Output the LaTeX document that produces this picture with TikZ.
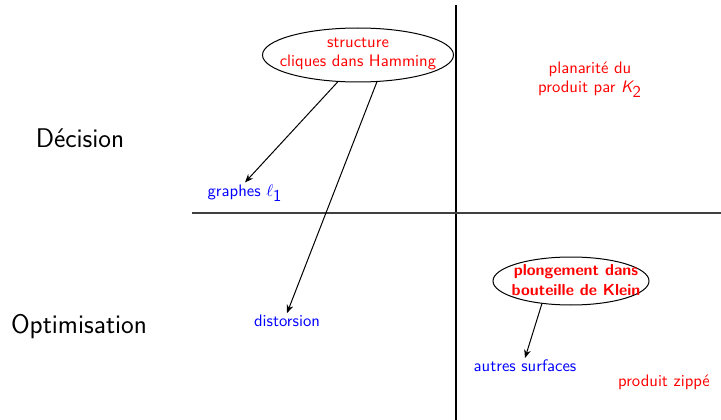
\documentclass[tikz,border=0pt]{standalone}
\renewcommand{\familydefault}{\sfdefault}
\usetikzlibrary{shapes.geometric,arrows.meta}
\begin{document}
\begin{tikzpicture}[x=0.6pt,y=-0.6pt,
  lbl/.style={font=\fontsize{10}{11}\selectfont, align=center, inner sep=1pt},
  red lbl/.style={lbl, text=red},
  blue lbl/.style={lbl, text=blue},
  oval/.style={ellipse, draw, line width=0.6pt, inner sep=0pt},
  big/.style={font=\fontsize{16.2}{19}\selectfont, inner sep=0pt},
  axis/.style={line width=0.8pt},
  arr/.style={-{Stealth[length=5pt,width=4pt]}, line width=0.6pt}]
\useasboundingbox (0,0) rectangle (721,420);
\coordinate (vtop) at (456,5);
\coordinate (vbot) at (456,420);
\coordinate (hl) at (192,213);
\coordinate (hr) at (721,213);
\draw[axis] (vtop) -- (vbot);
\draw[axis, black!75] (hl) -- (hr);
\node[big] (dec) at (80,138) {Décision};
\node[big] (opt) at (79,327) {Optimisation};
\node[oval, minimum width=114.6pt, minimum height=32.4pt] (e1) at (358,55) {};
\node[red lbl] (t1) at (358,54) {structure\\cliques dans Hamming};
\node[red lbl] (plan) at (590,80) {planarité du\\produit par $\textsf{\itshape K}_{\textsf{2}}$};
\node[blue lbl] (gr) at (245,193) {graphes $\ell_{\textsf{1}}$};
\node[blue lbl] (dist) at (287,321) {distorsion};
\node[oval, minimum width=93.6pt, minimum height=28.8pt] (e2) at (571,281) {};
\node[red lbl, font=\fontsize{9.6}{12}\selectfont\bfseries] (t2) at (576,280) {plongement dans\\bouteille de Klein};
\node[blue lbl] (aut) at (525,366) {autres surfaces};
\node[red lbl] (zip) at (664,382) {produit zippé};
\draw[arr] (e1.233) -- (gr.north);
\draw[arr] (e1.305) -- (dist.north);
\draw[arr] (e2.218) -- (aut.north);
\end{tikzpicture}
\end{document}
